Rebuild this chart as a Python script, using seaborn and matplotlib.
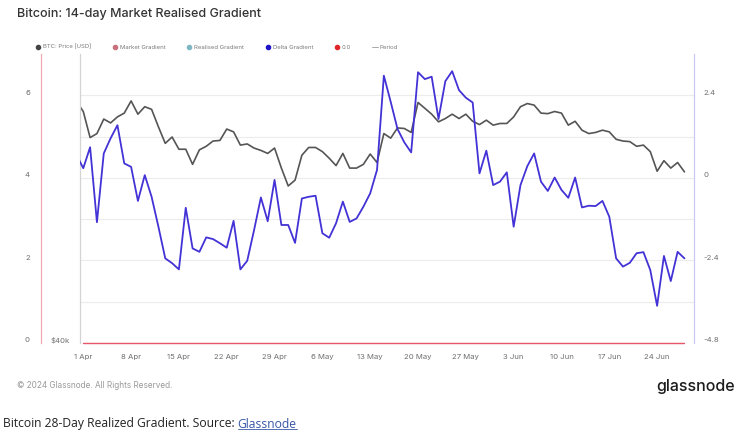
import numpy as np
import pandas as pd
import matplotlib
matplotlib.use("Agg")
import matplotlib.pyplot as plt
import matplotlib.dates as mdates
from matplotlib.lines import Line2D
from matplotlib.ticker import NullLocator
from matplotlib.transforms import ScaledTranslation
import seaborn as sns

# BTC price in thousand USD, daily from 31 Mar 2024
btc_price_k = [
    71.6,
    69.7, 65.0, 65.7, 68.3, 67.6, 68.7, 69.4, 71.7, 69.2, 70.6,
    70.1, 66.9, 64.0, 65.1, 63.0, 63.0, 60.5, 62.9, 63.5, 64.4,
    64.5, 66.5, 66.0, 63.7, 63.9, 63.2, 62.8, 62.3, 63.2, 59.9,
    57.1, 58.0, 62.0, 63.3, 63.3, 62.6, 61.5, 60.3, 62.3, 59.9,
    59.9, 60.5, 62.2, 60.8, 65.7, 64.9, 66.7, 66.6, 65.9, 71.4,
    70.3, 69.2, 67.8, 68.4, 69.2, 68.4, 69.2, 67.9, 67.3, 68.1,
    67.2, 67.5, 67.5, 68.7, 70.6, 71.2, 70.9, 69.4, 69.3, 69.7,
    69.4, 67.2, 67.9, 66.3, 65.7, 65.9, 66.3, 66.0, 64.7, 64.4,
    64.3, 63.5, 63.7, 62.6, 59.4, 61.1, 59.9, 60.8, 59.3,
]

# Delta Gradient (right axis)
delta_gradient = [
    0.67,
    0.28, 0.89, -1.29, 0.71, 1.15, 1.53, 0.42, 0.32, -0.67, 0.08,
    -0.55, -1.42, -2.34, -2.48, -2.66, -0.87, -2.05, -2.15, -1.73, -1.78,
    -1.90, -2.03, -1.25, -2.66, -2.41, -1.52, -0.57, -1.26, -0.06, -1.37,
    -1.37, -1.89, -0.60, -0.55, -0.52, -1.61, -1.74, -1.32, -0.69, -1.28,
    -1.18, -0.84, -0.45, 0.23, 2.97, 2.21, 1.42, 1.03, 0.74, 3.07,
    2.87, 2.94, 1.71, 2.81, 3.10, 2.55, 2.33, 2.19, 0.13, 0.79,
    -0.21, -0.11, 0.16, -1.42, -0.21, 0.34, 0.71, -0.11, -0.38, 0.01,
    -0.35, -0.58, 0.01, -0.86, -0.81, -0.82, -0.67, -1.13, -2.34, -2.58,
    -2.47, -2.19, -2.16, -2.68, -3.72, -2.27, -3.00, -2.15, -2.34,
]

dates = pd.date_range("2024-03-31", periods=len(btc_price_k), freq="D")
week_ticks = pd.date_range("2024-04-01", "2024-06-24", freq="7D")

left_ticks = [0, 1, 2, 3, 4, 5, 6]
left_labels = ["0", "", "2", "", "4", "", "6"]
right_ticks = [-4.8, -3.6, -2.4, -1.2, 0, 1.2, 2.4]
right_labels = ["-4.8", "", "-2.4", "", "0", "", "2.4"]

legend_labels = ["BTC: Price [USD]", "Market Gradient", "Realised Gradient",
                 "Delta Gradient", "0.0", "Period"]
legend_colors = ["#444444", "#c9707c", "#7fb8c4", "#1f13c8", "#e0262b", "#9a9a9a"]

df = pd.DataFrame({
    "date": dates,
    "price": np.array(btc_price_k) * 1000,
    "delta": delta_gradient,
})
zero_df = pd.DataFrame({"date": dates[1:], "zero": [0.0] * (len(dates) - 1)})

sns.set_style("white")
plt.rcParams["font.family"] = ["Inter", "DejaVu Sans"]

W, H = 745, 441
fig = plt.figure(figsize=(W / 100, H / 100), dpi=100)
ax = fig.add_axes([80 / W, 98 / H, 614 / W, 289 / H])
ax_price = ax.twinx()
ax_delta = ax.twinx()

tick_col = "#6f6f6f"
tick_size = 5.6

# outer left axis (gradients), holds the grid and the 0.0 line
ax.set_ylim(0, 7)
ax.set_yticks(left_ticks)
ax.set_yticklabels(left_labels)
ax.grid(axis="y", color="#ececec", lw=0.8)
ax.grid(axis="x", visible=False)
ax.spines["left"].set_position(("axes", -39 / 614))
ax.spines["left"].set_color("#f2a9b2")
ax.spines["left"].set_linewidth(0.9)
for s in ["top", "right", "bottom"]:
    ax.spines[s].set_visible(False)
ax.tick_params(axis="y", length=0, pad=8, labelsize=tick_size, labelcolor=tick_col)
sns.lineplot(data=zero_df, x="date", y="zero", ax=ax, color="#e8566a",
             lw=1.0, clip_on=False)

# price axis (log)
sns.lineplot(data=df, x="date", y="price", ax=ax_price, color="#555555", lw=1.2)
ax_price.set_yscale("log")
ax_price.set_ylim(37500, 81300)
ax_price.yaxis.set_minor_locator(NullLocator())
ax_price.yaxis.tick_left()
ax_price.set_yticks([37500])
ax_price.set_yticklabels(["$40k"])
ax_price.spines["left"].set_visible(True)
ax_price.spines["left"].set_color("#d4d4d4")
ax_price.spines["left"].set_linewidth(0.9)
for s in ["top", "right", "bottom"]:
    ax_price.spines[s].set_visible(False)
ax_price.tick_params(axis="y", length=0, pad=7, labelsize=tick_size, labelcolor=tick_col)

# delta gradient axis
sns.lineplot(data=df, x="date", y="delta", ax=ax_delta, color="#4332d6", lw=1.3)
ax_delta.set_ylim(-4.8, 3.6)
ax_delta.set_yticks(right_ticks)
ax_delta.set_yticklabels(right_labels)
ax_delta.spines["right"].set_color("#c8c8f2")
ax_delta.spines["right"].set_linewidth(0.9)
for s in ["top", "left", "bottom"]:
    ax_delta.spines[s].set_visible(False)
ax_delta.tick_params(axis="y", length=0, pad=7, labelsize=tick_size, labelcolor=tick_col)

for a in [ax, ax_price, ax_delta]:
    a.set_xlabel("")
    a.set_ylabel("")

ax.set_xlim(pd.Timestamp("2024-04-01") - pd.Timedelta(hours=11.5),
            pd.Timestamp("2024-04-01") + pd.Timedelta(hours=89.4 * 24))
ax.set_xticks(week_ticks)
ax.xaxis.set_major_formatter(mdates.DateFormatter("%-d %b"))
ax.tick_params(axis="x", length=0, pad=8, labelsize=tick_size, labelcolor=tick_col)

# labels sit a little above their gridlines
up = ScaledTranslation(0, 3 / 100, fig.dpi_scale_trans)
for a in [ax, ax_price, ax_delta]:
    for lbl in a.get_yticklabels():
        lbl.set_transform(lbl.get_transform() + up)

# legend
handles = [Line2D([], [], ls="none", marker="o", markersize=3, color=c)
           for c in legend_colors[:-1]]
handles.append(Line2D([], [], color=legend_colors[-1], lw=0.6))
fig.legend(handles, legend_labels, loc="center left",
           bbox_to_anchor=(35 / W, 1 - 47 / H), ncol=6, frameon=False,
           fontsize=4.3, handlelength=1.0, handletextpad=0.3,
           columnspacing=3.5, labelcolor="#7a7a7a", borderaxespad=0, borderpad=0)

fig.text(17 / W, 1 - 14 / H, "Bitcoin: 14-day Market Realised Gradient",
         fontsize=9, color="#333333", va="center", ha="left", weight="medium")
fig.text(17 / W, 1 - 386 / H, "© 2024 Glassnode. All Rights Reserved.",
         fontsize=5.9, color="#9a9a9a", va="center", ha="left")
fig.text(735 / W, 1 - 386 / H, "glassnode", fontsize=11.5, color="#1c1c1c",
         va="center", ha="right", weight="medium")

cap_font = ["Open Sans", "DejaVu Sans"]
cap_size = 8.7
cap_y = 1 - 424 / H
cap = fig.text(3 / W, cap_y, "Bitcoin 28-Day Realized Gradient. Source: ",
               family=cap_font, fontsize=cap_size, color="#222222", va="center")
fig.canvas.draw()
bb = cap.get_window_extent()
link = fig.text(bb.x1 / W, cap_y, "Glassnode", family=cap_font, fontsize=cap_size,
                color="#3556a6", va="center")
fig.canvas.draw()
lb = link.get_window_extent()
fig.add_artist(Line2D([lb.x0 / W, lb.x1 / W], [(lb.y0 + 2) / H] * 2,
                      transform=fig.transFigure, color="#3556a6", lw=0.6))

fig.savefig("out.png", dpi=100)
